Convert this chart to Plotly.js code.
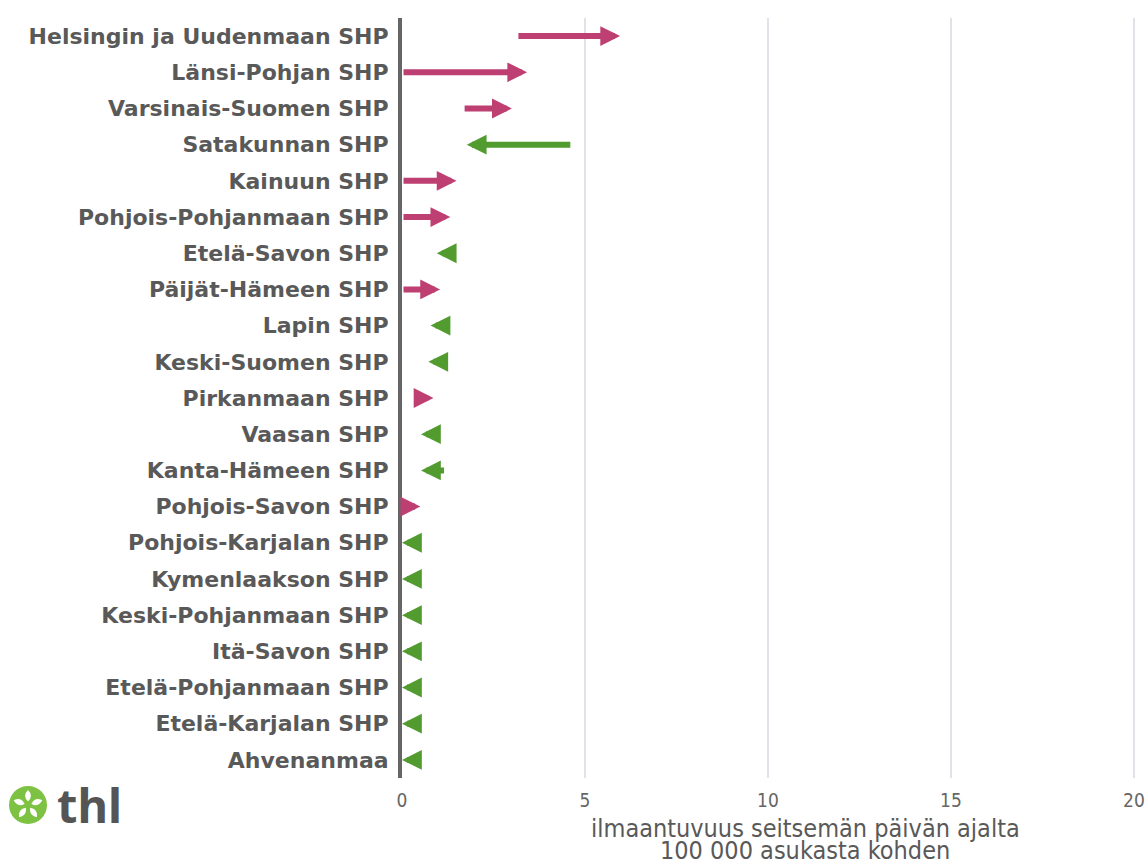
<!DOCTYPE html>
<html>
<head>
<meta charset="utf-8">
<script src="https://cdn.plot.ly/plotly-3.0.1.min.js"></script>
<style>
html,body{margin:0;padding:0;background:#fff;overflow:hidden;}
#chart{width:1148px;height:863px;}
</style>
</head>
<body>
<div id="chart"></div>
<script>
// ---- data ----
var regions = [
  "Helsingin ja Uudenmaan SHP",
  "Länsi-Pohjan SHP",
  "Varsinais-Suomen SHP",
  "Satakunnan SHP",
  "Kainuun SHP",
  "Pohjois-Pohjanmaan SHP",
  "Etelä-Savon SHP",
  "Päijät-Hämeen SHP",
  "Lapin SHP",
  "Keski-Suomen SHP",
  "Pirkanmaan SHP",
  "Vaasan SHP",
  "Kanta-Hämeen SHP",
  "Pohjois-Savon SHP",
  "Pohjois-Karjalan SHP",
  "Kymenlaakson SHP",
  "Keski-Pohjanmaan SHP",
  "Itä-Savon SHP",
  "Etelä-Pohjanmaan SHP",
  "Etelä-Karjalan SHP",
  "Ahvenanmaa"
];
// incidence per 100 000, previous period (arrow tail)
var startValues = [3.14, 0, 1.67, 4.64, 0, 0, 1.42, 0, 1.25, 1.2, 0.34, 1.0, 1.19, 0, 0.4, 0.4, 0.4, 0.4, 0.4, 0.4, 0.4];
// incidence per 100 000, latest period (arrow head)
var endValues = [5.96, 3.42, 3.0, 1.77, 1.49, 1.32, 0.95, 1.04, 0.78, 0.72, 0.86, 0.52, 0.52, 0.5, 0, 0, 0, 0, 0, 0, 0];
var xTickVals = [0, 5, 10, 15, 20];
var xTickText = ["0", "5", "10", "15", "20"];
var xTitleLines = ["ilmaantuvuus seitsemän päivän ajalta", "100 000 asukasta kohden"];

// ---- styles ----
var UP = "#be3f72";
var DOWN = "#519b2f";
var TXT = "#595959";
var COND = "DejaVu Sans Condensed, Liberation Sans Narrow, DejaVu Sans";

var annotations = regions.map(function(r, i){
  var up = endValues[i] > startValues[i];
  return {
    x: endValues[i], y: r, ax: startValues[i], ay: r,
    xref: "x", yref: "y", axref: "x", ayref: "y",
    text: "", showarrow: true, arrowhead: 2, arrowsize: 0.66, arrowwidth: 6,
    arrowcolor: up ? UP : DOWN, standoff: 0
  };
});

var titleY = [(778 - 828) / 760, (778 - 850) / 760];
xTitleLines.forEach(function(t, j){
  annotations.push({
    xref: "paper", yref: "paper", x: 0.5417, y: titleY[j],
    xanchor: "center", yanchor: "middle", showarrow: false,
    text: t, font: {family: COND, size: 25, color: TXT}
  });
});
annotations.push({
  xref: "paper", yref: "paper", x: -0.466, y: -0.036,
  xanchor: "left", yanchor: "middle", showarrow: false,
  text: "thl",
  font: {family: "Noto Sans", size: 47, color: "#555555", weight: "bold"}
});

// logo shapes (pixel-sized, anchored in paper space)
var lx = (28 - 402) / 744, ly = (778 - 805) / 760;
var shapes = [{
  type: "circle", xref: "paper", yref: "paper", xsizemode: "pixel", ysizemode: "pixel",
  xanchor: lx, yanchor: ly, x0: -19, x1: 19, y0: -19, y1: 19,
  fillcolor: "#7dc242", line: {width: 0}
}];
for (var k = 0; k < 5; k++) {
  var a = Math.PI / 2 + k * 2 * Math.PI / 5;
  var pt = function(r, off) {
    var b = a + off;
    return (r * Math.cos(b)).toFixed(2) + "," + (r * Math.sin(b)).toFixed(2);
  };
  var inner = pt(3.5, 0), outer = pt(15, 0);
  var c1 = pt(11, 0.55), c2 = pt(11, -0.55);
  shapes.push({
    type: "path", xref: "paper", yref: "paper", xsizemode: "pixel", ysizemode: "pixel",
    xanchor: lx, yanchor: ly,
    path: "M" + inner + " Q" + c1 + " " + outer + " Q" + c2 + " " + inner + " Z",
    fillcolor: "#ffffff", line: {width: 0}
  });
}

var traces = [{
  type: "scatter", mode: "markers", x: endValues, y: regions,
  marker: {opacity: 0, size: 1}, hoverinfo: "skip", showlegend: false
}];

var layout = {
  width: 1148, height: 863,
  margin: {l: 402, r: 2, t: 18, b: 85},
  paper_bgcolor: "#ffffff", plot_bgcolor: "#ffffff",
  showlegend: false,
  xaxis: {
    range: [0, 20.33], tickvals: xTickVals, ticktext: xTickText,
    showgrid: true, gridcolor: "#dfe2e6", gridwidth: 1.5, zeroline: false,
    showline: false, ticks: "outside", ticklen: 5, tickcolor: "rgba(0,0,0,0)",
    tickfont: {family: COND, size: 19, color: "#666666"}, fixedrange: true
  },
  yaxis: {
    type: "category", categoryorder: "array", categoryarray: regions,
    range: [20.5, -0.5], showgrid: false, zeroline: false,
    showline: true, linecolor: "#666666", linewidth: 4,
    ticks: "outside", ticklen: 5, tickcolor: "rgba(0,0,0,0)",
    tickfont: {family: "DejaVu Sans", size: 22, color: TXT, weight: "bold"}, fixedrange: true
  },
  annotations: annotations,
  shapes: shapes
};

Plotly.newPlot("chart", traces, layout, {displayModeBar: false, staticPlot: true});
</script>
</body>
</html>
